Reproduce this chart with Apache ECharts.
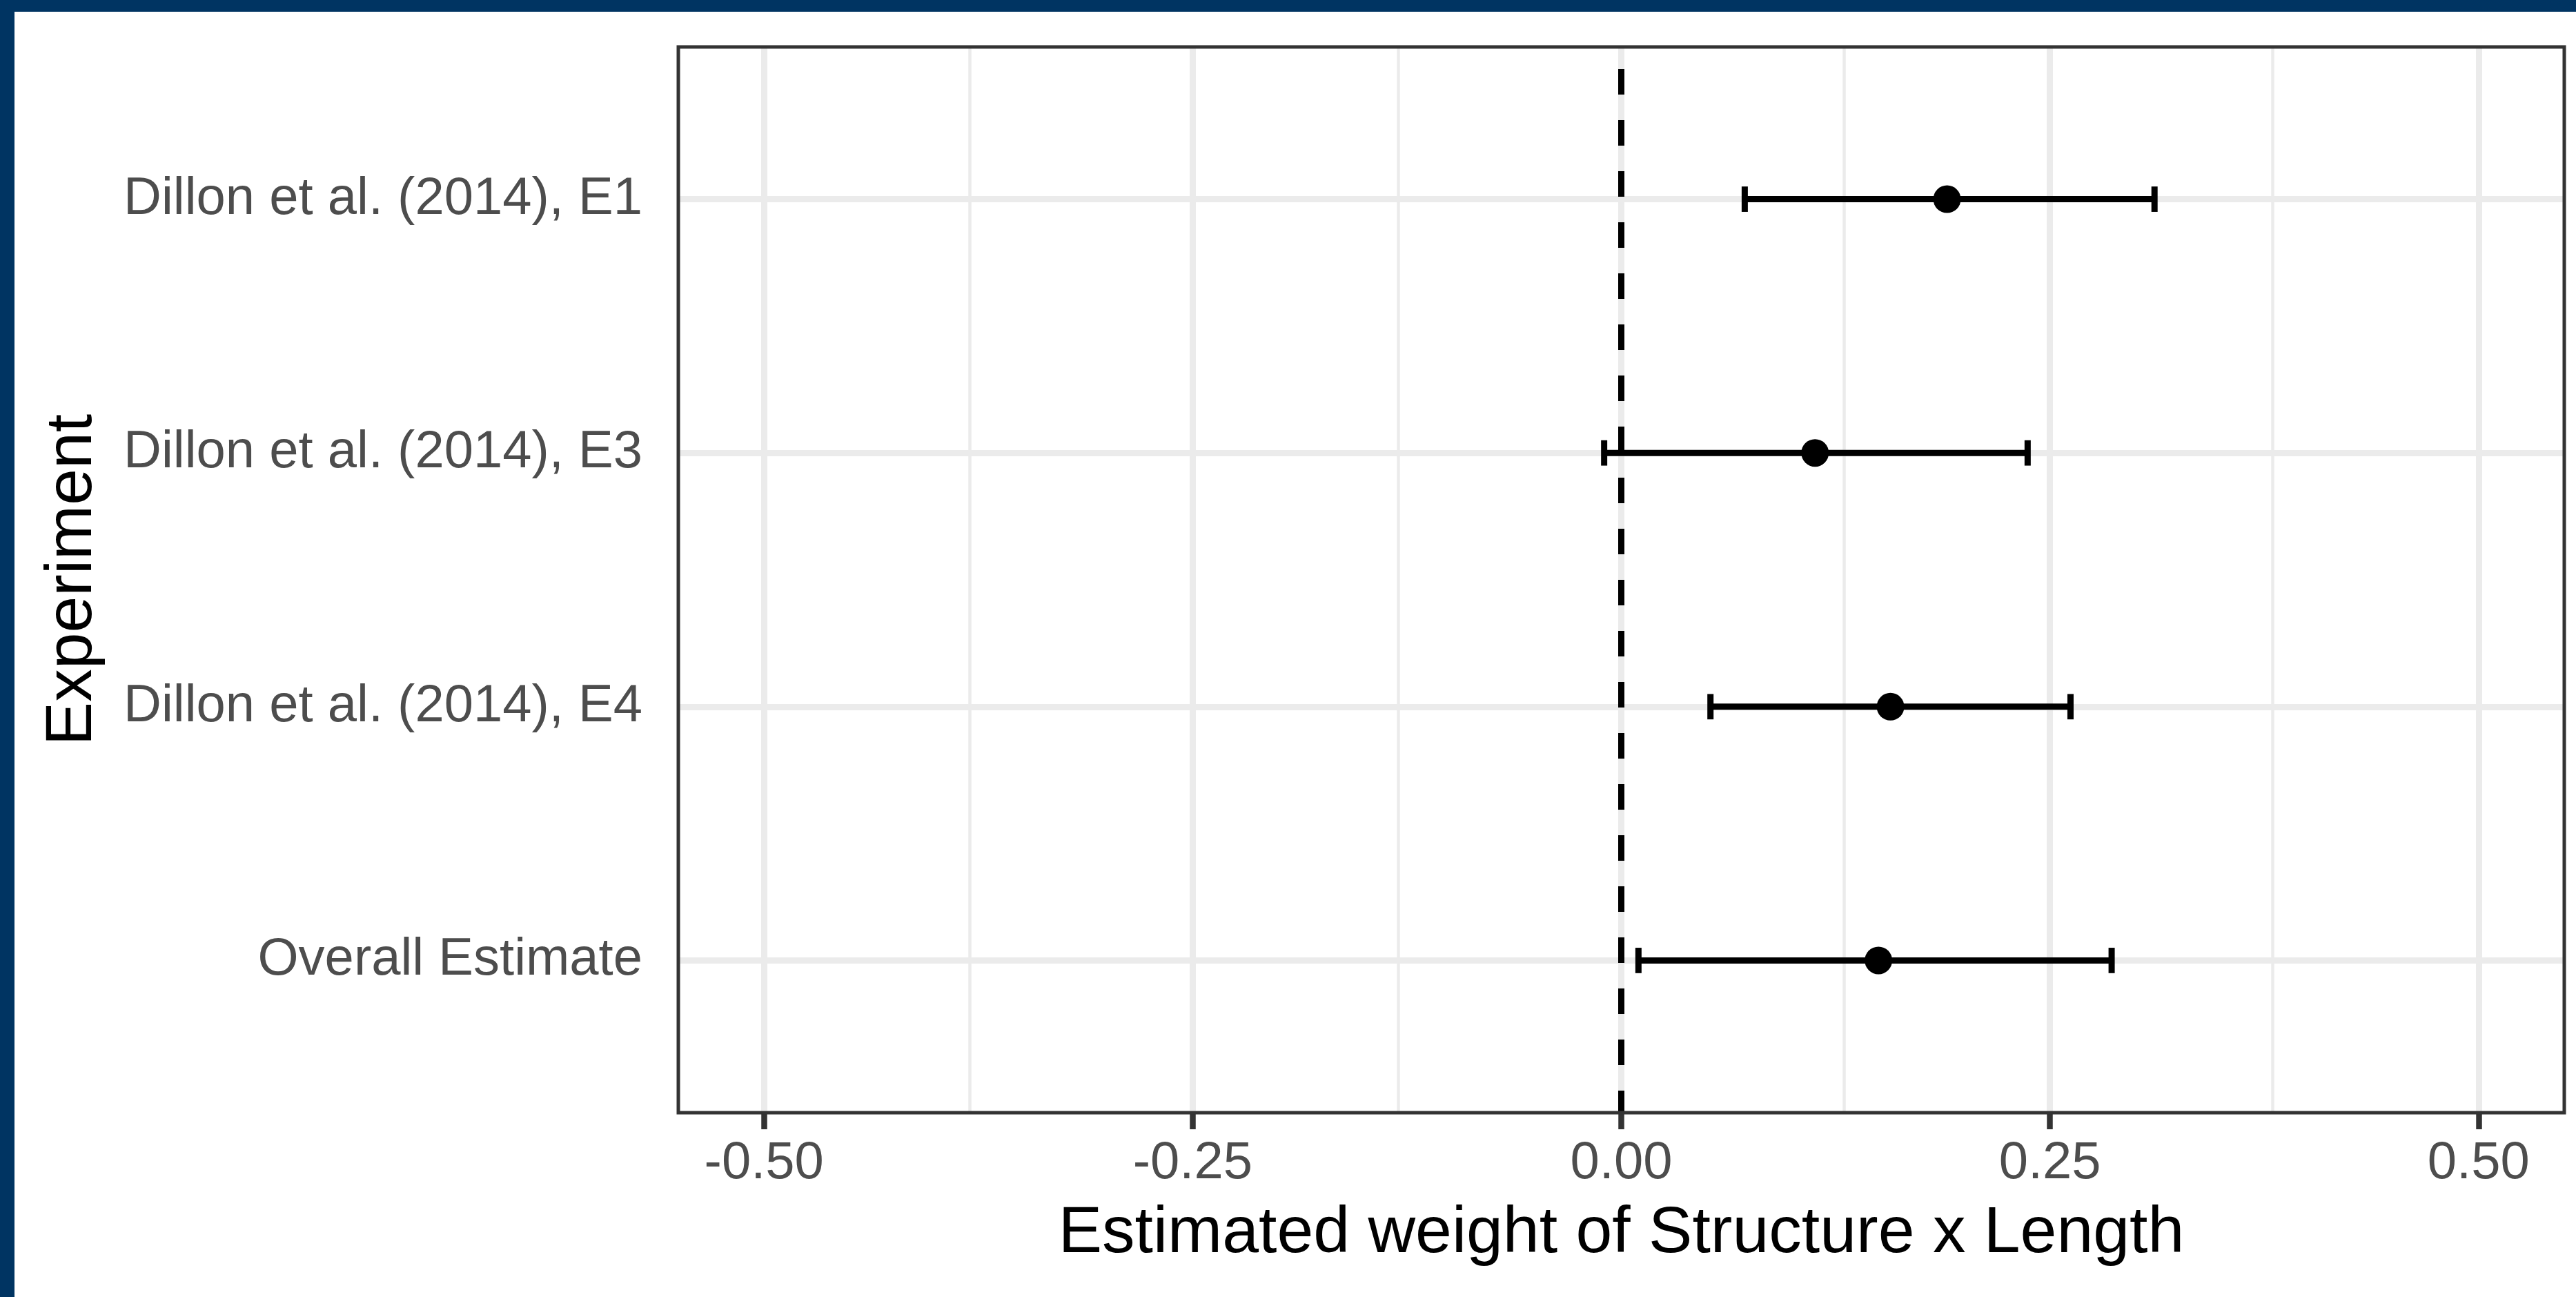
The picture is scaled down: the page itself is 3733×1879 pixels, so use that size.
<!DOCTYPE html>
<html>
<head>
<meta charset="utf-8">
<script src="https://cdn.jsdelivr.net/npm/echarts@6/dist/echarts.min.js"></script>
<style>
  html, body { margin: 0; padding: 0; background: #ffffff; }
  #chart { width: 3733px; height: 1879px; }
</style>
</head>
<body>
<div id="chart"></div>
<script>
// Forest plot: estimated weight of Structure x Length per experiment
const experiments = [
  'Dillon et al. (2014), E1',
  'Dillon et al. (2014), E3',
  'Dillon et al. (2014), E4',
  'Overall Estimate'
];
const estimates = [0.190, 0.113, 0.157, 0.150];
const lowerCI   = [0.072, -0.010, 0.052, 0.010];
const upperCI   = [0.311, 0.237, 0.262, 0.286];

const xMajorTicks = [-0.5, -0.25, 0, 0.25, 0.5];
const xMinorTicks = [-0.375, -0.125, 0.125, 0.375];
const referenceX = 0;

const rowIndex = experiments.map((_, i) => i + 1);

const FONT = '"Liberation Sans", Arial, Helvetica, sans-serif';
const GRID_COLOR = '#ebebeb';
const INK = '#333333';

const chart = echarts.init(document.getElementById('chart'), null, { renderer: 'canvas' });

const gridLines = []
  .concat(xMinorTicks.map(v => ({ xAxis: v, lineStyle: { color: GRID_COLOR, width: 4.5, type: 'solid' } })))
  .concat(xMajorTicks.map(v => ({ xAxis: v, lineStyle: { color: GRID_COLOR, width: 9, type: 'solid' } })))
  .concat(rowIndex.map(v => ({ yAxis: v, lineStyle: { color: GRID_COLOR, width: 9, type: 'solid' } })));

const option = {
  backgroundColor: '#ffffff',
  animation: false,
  graphic: [
    { type: 'rect', left: 0, top: 0, shape: { width: 3733, height: 17 }, style: { fill: '#003462' }, silent: true },
    { type: 'rect', left: 0, top: 0, shape: { width: 21, height: 1879 }, style: { fill: '#003462' }, silent: true }
  ],
  grid: {
    left: 983, top: 68, right: 17, bottom: 267,
    show: true,
    z: 10,
    backgroundColor: 'transparent',
    borderColor: INK,
    borderWidth: 5
  },
  xAxis: {
    type: 'value',
    min: -0.55,
    max: 0.55,
    name: 'Estimated weight of Structure x Length',
    nameLocation: 'middle',
    nameGap: 128,
    nameTextStyle: { fontFamily: FONT, fontSize: 95, color: '#000000' },
    axisLine: { show: false },
    axisTick: {
      show: true, length: 24, customValues: xMajorTicks,
      lineStyle: { color: INK, width: 8.5 }
    },
    axisLabel: {
      show: true, customValues: xMajorTicks, margin: 36,
      fontFamily: FONT, fontSize: 76, color: '#4d4d4d',
      formatter: v => v.toFixed(2)
    },
    splitLine: { show: false }
  },
  yAxis: {
    type: 'value',
    inverse: true,
    min: 0.4,
    max: 4.6,
    name: 'Experiment',
    nameLocation: 'middle',
    nameGap: 830,
    nameRotate: 90,
    nameTextStyle: { fontFamily: FONT, fontSize: 95, color: '#000000' },
    axisLine: { show: false },
    axisTick: {
      show: true, length: 26, customValues: rowIndex,
      lineStyle: { color: INK, width: 8.5 }
    },
    axisLabel: {
      show: true, customValues: rowIndex, margin: 52,
      fontFamily: FONT, fontSize: 76, color: '#4d4d4d',
      formatter: v => experiments[Math.round(v) - 1]
    },
    splitLine: { show: false }
  },
  series: [
    {
      // panel grid lines
      type: 'scatter',
      z: 1,
      data: [],
      silent: true,
      markLine: {
        z: 1,
        silent: true,
        symbol: ['none', 'none'],
        label: { show: false },
        emphasis: { disabled: true },
        data: gridLines
      }
    },
    {
      // dashed reference line at zero
      type: 'scatter',
      z: 2,
      data: [],
      silent: true,
      markLine: {
        z: 2,
        silent: true,
        symbol: ['none', 'none'],
        label: { show: false },
        emphasis: { disabled: true },
        data: [{ xAxis: referenceX, lineStyle: { color: '#000000', width: 9, type: [37, 37], dashOffset: 42 } }]
      }
    },
    {
      // confidence intervals with end caps
      type: 'custom',
      z: 3,
      silent: true,
      data: rowIndex.map((r, i) => [lowerCI[i], upperCI[i], r]),
      encode: { x: [0, 1], y: 2 },
      renderItem: function (params, api) {
        const lo = api.coord([api.value(0), api.value(2)]);
        const hi = api.coord([api.value(1), api.value(2)]);
        const capHalf = api.size([0, 0.1])[1] / 2;
        const mk = (x1, y1, x2, y2) => ({
          type: 'line',
          shape: { x1: x1, y1: y1, x2: x2, y2: y2 },
          style: { stroke: '#000000', lineWidth: 9, fill: null }
        });
        return {
          type: 'group',
          children: [
            mk(lo[0], lo[1], hi[0], hi[1]),
            mk(lo[0], lo[1] - capHalf, lo[0], lo[1] + capHalf),
            mk(hi[0], hi[1] - capHalf, hi[0], hi[1] + capHalf)
          ]
        };
      }
    },
    {
      // point estimates
      type: 'scatter',
      z: 4,
      silent: true,
      symbol: 'circle',
      symbolSize: 40,
      itemStyle: { color: '#000000', opacity: 1 },
      data: rowIndex.map((r, i) => [estimates[i], r])
    }
  ]
};

chart.setOption(option);
</script>
</body>
</html>
